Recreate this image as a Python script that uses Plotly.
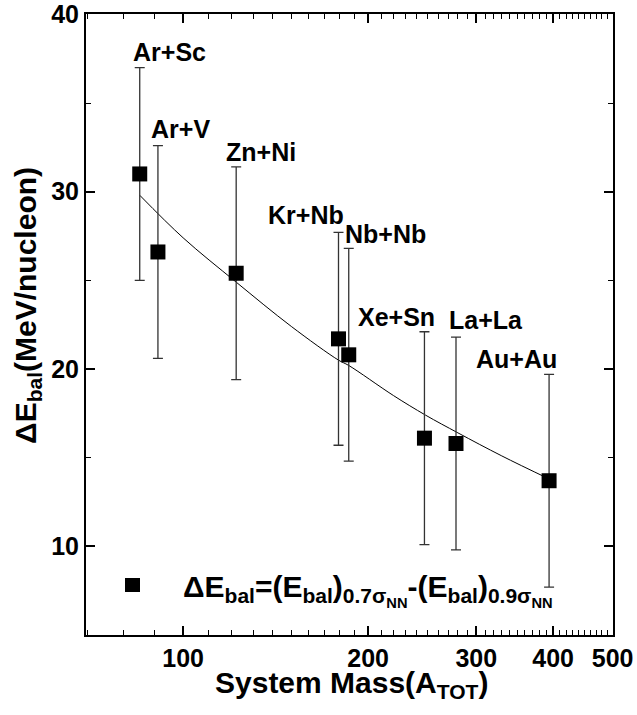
import math
import plotly.graph_objects as go

# ---- data ----
systems = ["Ar+Sc", "Ar+V", "Zn+Ni", "Kr+Nb", "Nb+Nb", "Xe+Sn", "La+La", "Au+Au"]
a_tot = [85, 91, 122, 179, 186, 247, 278, 394]
delta_e = [31.0, 26.6, 25.4, 21.7, 20.8, 16.1, 15.8, 13.7]
err = [6.0, 6.0, 6.0, 6.0, 6.0, 6.0, 6.0, 6.0]

fit_x = [85, 100, 122, 150, 179, 186, 220, 248, 280, 330, 394]
fit_y = [29.8, 27.4, 24.9, 22.4, 20.5, 20.2, 18.5, 17.4, 16.4, 15.1, 13.8]

label_x = [94.9, 98.9, 133.9, 158.5, 213.7, 222.8, 311, 349]
label_y = [37.86, 33.53, 32.23, 28.69, 27.62, 22.95, 22.78, 20.59]

x_ticks = [100, 200, 300, 400, 500]
x_minor = [v for v in range(70, 500, 10) if v not in x_ticks]
y_ticks = [10, 20, 30, 40]
y_minor = [15, 25, 35]

FONT = "Liberation Sans, Arial, sans-serif"

fig = go.Figure()

fig.add_trace(go.Scatter(
    x=fit_x, y=fit_y, mode="lines", line=dict(color="black", width=1, shape="spline"),
    showlegend=False, hoverinfo="skip"))

fig.add_trace(go.Scatter(
    x=a_tot, y=delta_e, mode="markers",
    marker=dict(symbol="square", size=15, color="black"),
    error_y=dict(type="data", array=err, visible=True, color="#333333", thickness=1.3, width=5),
    showlegend=False))

for name, lx, ly in zip(systems, label_x, label_y):
    fig.add_annotation(x=math.log10(lx), y=ly, xref="x", yref="y", text="<b>" + name + "</b>",
                       showarrow=False, font=dict(family=FONT, size=25, color="black"),
                       xanchor="center", yanchor="middle")

# legend-like key
fig.add_shape(type="rect", xref="paper", yref="paper",
              x0=0.074, x1=0.1025, y0=0.0692, y1=0.0918,
              fillcolor="black", line=dict(width=0))
fig.add_annotation(
    x=0.18, y=0.072, xref="paper", yref="paper",
    text="<b>ΔE<sub>bal</sub>=(E<sub>bal</sub>)<sub>0.7σ<sub>NN</sub></sub>-(E<sub>bal</sub>)<sub>0.9σ<sub>NN</sub></sub></b>",
    showarrow=False, font=dict(family=FONT, size=30, color="black"),
    xanchor="left", yanchor="middle")

# axis titles
fig.add_annotation(
    x=0.504, y=-0.080, xref="paper", yref="paper",
    text="<b>System Mass(A<sub>TOT</sub>)</b>",
    showarrow=False, font=dict(family=FONT, size=30, color="black"),
    xanchor="center", yanchor="middle")
fig.add_annotation(
    x=-0.110, y=0.530, xref="paper", yref="paper", textangle=-90,
    text="<b>ΔE<sub>bal</sub>(MeV/nucleon)</b>",
    showarrow=False, font=dict(family=FONT, size=30, color="black"),
    xanchor="center", yanchor="middle")

axis_common = dict(
    showline=True, linecolor="black", linewidth=2, mirror="ticks",
    ticks="inside", ticklen=9, tickwidth=1.5, tickcolor="black",
    showgrid=False, zeroline=False, automargin=False,
    tickfont=dict(family=FONT, size=25, color="black"),
)

fig.update_xaxes(
    type="log", range=[1.842, 2.6995],
    tickvals=x_ticks, ticktext=["<b>%d</b>" % v for v in x_ticks],
    minor=dict(tickvals=x_minor, ticks="inside", ticklen=5, tickwidth=1.2, tickcolor="black"),
    **axis_common)

fig.update_yaxes(
    range=[5, 40.02],
    tickvals=y_ticks, ticktext=["<b>%d</b>" % v for v in y_ticks],
    minor=dict(tickvals=y_minor, ticks="inside", ticklen=5, tickwidth=1.2, tickcolor="black"),
    **axis_common)

fig.update_layout(
    width=637, height=715,
    margin=dict(l=86, r=24, t=14, b=80, autoexpand=False),
    plot_bgcolor="white", paper_bgcolor="white",
    showlegend=False,
)

fig.write_html(
    "out.html",
    config={"displayModeBar": False},
    post_script="document.body.style.margin='0';document.body.style.overflow='hidden';",
)
